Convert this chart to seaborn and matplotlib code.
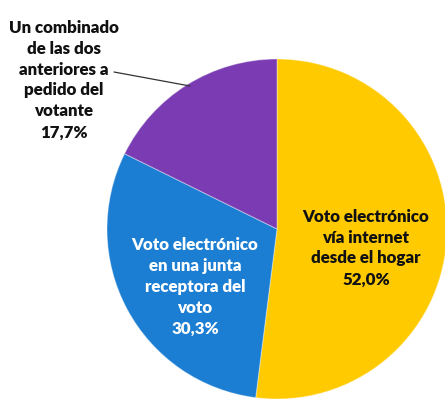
import matplotlib
matplotlib.use("Agg")
import matplotlib.pyplot as plt
import seaborn as sns

# Preferred voting method (share of respondents)
categories = [
    "Voto electrónico\nvía internet\ndesde el hogar",
    "Voto electrónico\nen una junta\nreceptora del\nvoto",
    "Un combinado\nde las dos\nanteriores a\npedido del\nvotante",
]
shares = [52.0, 30.3, 17.7]
palette = sns.color_palette(["#FFCA00", "#1B7ED3", "#7B3BB2"])
text_colors = ["#111111", "white", "#111111"]

sns.set_theme(style="white")
plt.rcParams["font.family"] = ["Lato", "DejaVu Sans"]

W, H = 445, 401
fig = plt.figure(figsize=(W / 100, H / 100), dpi=100)
ax = fig.add_axes([0, 0, 1, 1])

cx, cy, r = 277, H - 229, 170

wedges, _ = ax.pie(
    shares,
    colors=palette,
    startangle=90,
    counterclock=False,
    center=(cx, cy),
    radius=r,
    frame=True,
    wedgeprops=dict(linewidth=0.8, edgecolor=(1, 1, 1, 0.35)),
)
ax.set_xlim(0, W)
ax.set_ylim(0, H)
ax.set_aspect("equal")
ax.axis("off")


def fmt(v):
    return f"{v:.1f}".replace(".", ",") + "%"


label_pos = [(366, H - 248), (195, H - 287), (64, H - 80)]
for cat, val, (tx, ty), tc in zip(categories, shares, label_pos, text_colors):
    ax.text(tx, ty, f"{cat}\n{fmt(val)}", ha="center", va="center",
            fontsize=12.2, fontweight="heavy", color=tc, linespacing=1.38)

# leader line for the outside label
ax.plot([114, 190], [H - 72, H - 86], color="#333333", lw=0.9)

fig.savefig("out.png", dpi=100, facecolor="white")
